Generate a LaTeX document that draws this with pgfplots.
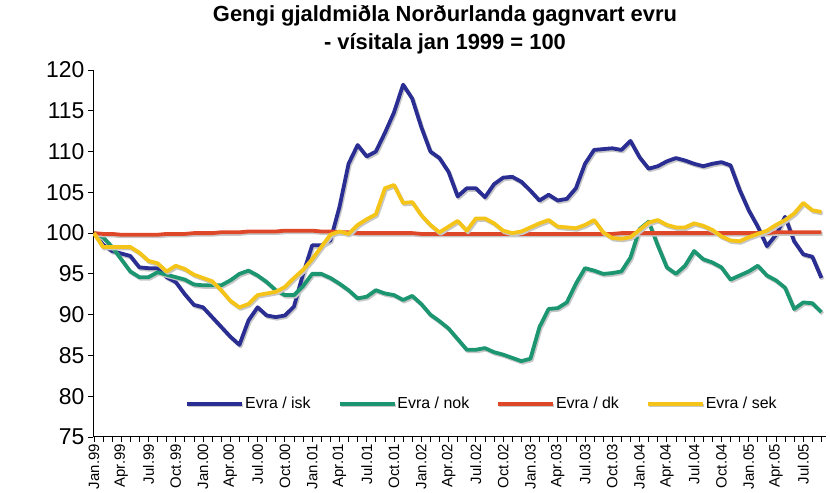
\documentclass[border=0pt]{standalone}
\usepackage{pgfplots}
\pgfplotsset{compat=1.18}
\usepackage{pgfplotstable}
\usepackage{fontspec}
\setmainfont{Liberation Sans}
\definecolor{iskc}{RGB}{42,46,146}
\definecolor{nokc}{RGB}{28,150,112}
\definecolor{dkc}{RGB}{222,72,40}
\definecolor{sekc}{RGB}{245,196,24}

\pgfplotstableread{
i isk nok dk sek
0 100 100 100 100
1 98.6 99.5 99.9 98.3
2 97.8 98.3 99.9 98.3
3 97.5 96.8 99.8 98.3
4 97.2 95.3 99.8 98.3
5 95.8 94.6 99.8 97.6
6 95.7 94.6 99.8 96.6
7 95.7 95.2 99.8 96.3
8 94.6 94.9 99.9 95.3
9 94.0 94.6 99.9 96.0
10 92.5 94.3 99.9 95.6
11 91.2 93.7 100.0 94.9
12 90.9 93.6 100.0 94.5
13 89.7 93.6 100.0 94.1
14 88.5 93.6 100.1 93.0
15 87.3 94.2 100.1 91.7
16 86.3 95.0 100.1 90.9
17 89.3 95.4 100.2 91.3
18 90.9 94.8 100.2 92.4
19 89.9 94.0 100.2 92.6
20 89.7 93.0 100.2 92.8
21 89.9 92.4 100.3 93.4
22 91.0 92.4 100.3 94.5
23 95.0 93.5 100.3 95.5
24 98.5 95.0 100.3 96.8
25 98.5 95.0 100.2 98.3
26 99.1 94.5 100.2 99.8
27 103.2 93.8 100.1 100.2
28 108.5 93.0 100.1 99.9
29 110.8 92.0 100.0 101.0
30 109.4 92.2 100.0 101.7
31 110.0 93.0 100.0 102.3
32 112.3 92.6 100.0 105.5
33 114.8 92.4 100.0 105.9
34 118.2 91.8 100.0 103.7
35 116.5 92.3 100.0 103.8
36 113.0 91.3 99.9 102.2
37 110.0 90.0 99.9 101.0
38 109.2 89.2 99.9 100.1
39 107.5 88.3 99.9 100.8
40 104.5 87.0 99.9 101.5
41 105.5 85.7 99.9 100.3
42 105.5 85.7 99.9 101.8
43 104.4 85.9 99.9 101.8
44 106.0 85.4 99.9 101.2
45 106.8 85.1 99.9 100.3
46 106.9 84.7 99.9 100.0
47 106.3 84.3 99.9 100.2
48 105.2 84.6 99.9 100.7
49 104.0 88.5 99.9 101.2
50 104.7 90.7 99.9 101.6
51 104.0 90.8 99.9 100.8
52 104.2 91.5 99.9 100.7
53 105.5 93.8 99.9 100.6
54 108.5 95.7 99.9 101.0
55 110.2 95.4 99.9 101.6
56 110.3 95.0 99.9 100.1
57 110.4 95.1 99.9 99.4
58 110.2 95.3 100.0 99.3
59 111.3 97.0 100.0 99.5
60 109.3 100.5 100.0 100.4
61 107.9 101.4 100.0 101.3
62 108.2 98.5 100.0 101.6
63 108.8 95.8 100.0 101.0
64 109.2 95.0 100.0 100.7
65 108.9 96.0 100.0 100.7
66 108.5 97.8 100.0 101.2
67 108.2 96.8 100.0 100.9
68 108.5 96.4 100.0 100.4
69 108.7 95.8 100.0 99.6
70 108.3 94.3 100.0 99.1
71 105.3 94.8 100.0 99.0
72 102.8 95.3 100.0 99.5
73 100.8 96.0 100.0 99.9
74 98.4 94.8 100.0 100.3
75 99.8 94.2 100.1 101.0
76 102.0 93.3 100.1 101.6
77 99.0 90.7 100.1 102.4
78 97.4 91.5 100.1 103.7
79 97.1 91.4 100.1 102.8
80 94.5 90.3 100.1 102.6
}\data

\begin{document}
\begin{tikzpicture}
\begin{axis}[
  at={(93bp,56bp)}, anchor=south west,
  scale only axis, width=733bp, height=367bp,
  xmin=-0.1, xmax=80.5, ymin=75, ymax=120,
  axis lines*=left,
  axis line style={black, line width=1bp},
  ytick={75,80,...,120},
  xtick={0,3,...,78},
  xticklabels={Jan.99,Apr.99,Jul.99,Oct.99,Jan.00,Apr.00,Jul.00,Oct.00,Jan.01,Apr.01,Jul.01,Oct.01,Jan.02,Apr.02,Jul.02,Oct.02,Jan.03,Apr.03,Jul.03,Oct.03,Jan.04,Apr.04,Jul.04,Oct.04,Jan.05,Apr.05,Jul.05},
  minor xtick={0,...,80},
  tick align=outside,
  major tick length=5bp, minor tick length=5bp,
  tick style={black, line width=0.8bp},
  xticklabel style={rotate=90, anchor=east, inner sep=2bp, font=\fontsize{15}{15}\selectfont},
  yticklabel style={font=\fontsize{23}{23}\selectfont},
  /pgf/number format/assume math mode=true,
  legend columns=4,
  legend style={at={(0.53,0.09)}, anchor=center, draw=none, fill=none,
    font=\fontsize{16}{16}\selectfont,
    nodes={inner xsep=1bp},
    /tikz/every even column/.append style={column sep=26bp}},
  legend image code/.code={\draw[#1] (0bp,0bp) -- (55bp,0bp);},
  every axis plot/.append style={line width=3.8bp, line join=round,
    preaction={draw=black!22, line width=3.8bp, transform canvas={shift={(1.2bp,-1.6bp)}}}},
]
\addplot[iskc] table[x=i, y=isk] {\data};
\addlegendentry{Evra / isk}
\addplot[nokc] table[x=i, y=nok] {\data};
\addlegendentry{Evra / nok}
\addplot[dkc] table[x=i, y=dk] {\data};
\addlegendentry{Evra / dk}
\addplot[sekc] table[x=i, y=sek] {\data};
\addlegendentry{Evra / sek}
\end{axis}
\node[font=\bfseries\fontsize{22}{22}\selectfont] at (445bp,477bp) {Gengi gjaldmiðla Norðurlanda gagnvart evru};
\node[font=\bfseries\fontsize{22}{22}\selectfont] at (445bp,449bp) {- vísitala jan 1999 = 100};
\pgfresetboundingbox
\useasboundingbox (0,0) rectangle (830bp,493bp);
\end{tikzpicture}
\end{document}
